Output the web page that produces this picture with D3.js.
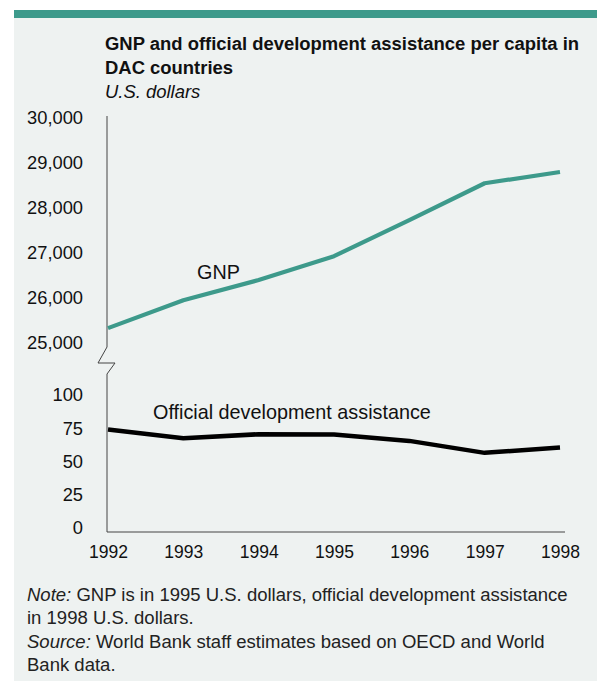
<!DOCTYPE html>
<html><head><meta charset="utf-8">
<script src="https://cdn.jsdelivr.net/npm/d3@7/dist/d3.min.js"></script>
<style>
html,body{margin:0;padding:0;background:#fff;}
svg{display:block;font-family:"Liberation Sans",Arial,sans-serif;}
</style></head>
<body>
<script>
const years = [1992,1993,1994,1995,1996,1997,1998];
const gnp = [25330,25950,26400,26930,27730,28550,28800];
const oda = [74,67.5,70.5,70.3,65.5,56.5,60.5];
const gnpTicks = [25000,26000,27000,28000,29000,30000];
const odaTicks = [0,25,50,75,100];
const titleLines = ["GNP and official development assistance per capita in","DAC countries"];
const subtitle = "U.S. dollars";

const W=597,H=682;
const FONT="Liberation Sans, Arial, sans-serif";
const svg=d3.select("body").append("svg").attr("width",W).attr("height",H);
svg.append("rect").attr("x",14).attr("y",10).attr("width",W-14).attr("height",671).attr("fill","#eef2f1");
svg.append("rect").attr("x",14).attr("y",10).attr("width",W-14).attr("height",8).attr("fill","#3d9a8b");

function fit(group, refNode, target){
  const w=refNode.getComputedTextLength();
  const fs=parseFloat(group.attr("font-size"));
  group.attr("font-size",(fs*target/w).toFixed(2));
}

const tg=svg.append("g").attr("fill","#111").attr("font-size",16);
const tl=titleLines.map((t,i)=>tg.append("text").attr("x",105).attr("y",50+i*24).attr("font-weight","bold").text(t));
tg.append("text").attr("x",105).attr("y",98).attr("font-style","italic").text(subtitle);
fit(tg,tl[0].node(),474);

const x=d3.scaleLinear().domain([1992,1998]).range([108,560]);
const yTop=d3.scaleLinear().domain([25000,30000]).range([343,118]);
const yBot=d3.scaleLinear().domain([0,100]).range([528,395]);

const fmt=d3.format(",");
const axL=svg.append("g").attr("transform","translate(107,0)")
  .call(d3.axisLeft(yTop).tickValues(gnpTicks).tickFormat(fmt).tickSize(0).tickPadding(24));
const axL2=svg.append("g").attr("transform","translate(107,0)")
  .call(d3.axisLeft(yBot).tickValues(odaTicks).tickSize(0).tickPadding(24));
const axB=svg.append("g").attr("transform","translate(0,552)")
  .call(d3.axisBottom(x).tickValues(years).tickFormat(d3.format("d")).tickSize(0).tickPadding(0));
[axL,axL2,axB].forEach(a=>{a.select(".domain").remove();
  a.attr("font-size",16).attr("font-family",FONT);
  a.selectAll("text").attr("fill","#111");});
axB.selectAll("text").attr("dy","0.36em");
fit(axB,axB.select("text").node(),39);
fit(axL,axL.selectAll("text").filter(d=>d===30000).node(),56);
axL2.attr("font-size",axL.attr("font-size"));

const ax=svg.append("g").attr("fill","none").attr("stroke","#444").attr("stroke-width",1);
ax.append("path").attr("d",`M107,116 L107,347 L98,363 L115,363 L107,374 L107,532 L565,532`);

const lineG=d3.line().x((d,i)=>x(years[i])).y(d=>yTop(d));
const lineO=d3.line().x((d,i)=>x(years[i])).y(d=>yBot(d));
svg.append("path").datum(gnp).attr("d",lineG).attr("fill","none").attr("stroke","#3d9a8b").attr("stroke-width",4.2).attr("stroke-linejoin","round");
svg.append("path").datum(oda).attr("d",lineO).attr("fill","none").attr("stroke","#000").attr("stroke-width",4.5).attr("stroke-linejoin","round");

const lg=svg.append("g").attr("font-size",16).attr("fill","#111");
lg.append("text").attr("x",197).attr("y",279).text("GNP");
const odaLab=lg.append("text").attr("x",153).attr("y",419).text("Official development assistance");
fit(lg,odaLab.node(),278);

const notes=svg.append("g").attr("font-size",16).attr("fill","#222");
const n1=notes.append("text").attr("x",27).attr("y",601);
n1.append("tspan").attr("font-style","italic").text("Note:");
n1.append("tspan").text(" GNP is in 1995 U.S. dollars, official development assistance");
notes.append("text").attr("x",27).attr("y",624).text("in 1998 U.S. dollars.");
const n3=notes.append("text").attr("x",27).attr("y",648);
n3.append("tspan").attr("font-style","italic").text("Source:");
n3.append("tspan").text(" World Bank staff estimates based on OECD and World");
notes.append("text").attr("x",27).attr("y",671).text("Bank data.");
fit(notes,n1.node(),541);
</script>
</body></html>
